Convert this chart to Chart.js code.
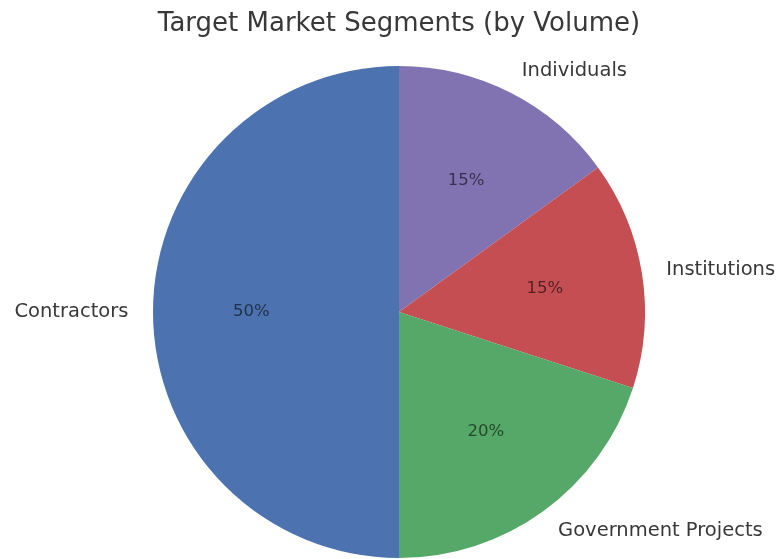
<!DOCTYPE html>
<html>
<head>
<meta charset="utf-8">
<script src="https://cdn.jsdelivr.net/npm/chart.js@4.4.1/dist/chart.umd.min.js"></script>
<style>
html,body{margin:0;padding:0;background:#fff;}
#wrap{width:776px;height:559px;}
</style>
</head>
<body>
<div id="wrap"><canvas id="c" width="776" height="559"></canvas></div>
<script>
const categories = ["Individuals", "Institutions", "Government Projects", "Contractors"];
const shares = [15, 15, 20, 50];
const sliceColors = ["#8172b2", "#c44e52", "#55a868", "#4c72b0"];
const titleText = "Target Market Segments (by Volume)";

const labelPlugin = {
  id: 'pieLabels',
  afterDatasetsDraw(chart) {
    const ctx = chart.ctx;
    const meta = chart.getDatasetMeta(0);
    const total = shares.reduce((a, b) => a + b, 0);
    ctx.save();
    meta.data.forEach((arc, i) => {
      const p = arc.getProps(['x', 'y', 'startAngle', 'endAngle', 'outerRadius'], true);
      const mid = (p.startAngle + p.endAngle) / 2;
      const c = Math.cos(mid), s = Math.sin(mid);
      const lx = p.x + c * p.outerRadius * 1.1;
      const ly = p.y + s * p.outerRadius * 1.1;
      ctx.font = '19.5px "DejaVu Sans"';
      ctx.fillStyle = '#383838';
      ctx.textBaseline = 'middle';
      ctx.textAlign = c > 0.0001 ? 'left' : (c < -0.0001 ? 'right' : 'center');
      ctx.fillText(categories[i], lx, ly);
      const px = p.x + c * p.outerRadius * 0.6;
      const py = p.y + s * p.outerRadius * 0.6;
      ctx.font = '16.5px "DejaVu Sans"';
      ctx.fillStyle = 'rgba(0,0,0,0.58)';
      ctx.textAlign = 'center';
      ctx.fillText(Math.round(shares[i] / total * 100) + '%', px, py);
    });
    ctx.restore();
  }
};

new Chart(document.getElementById('c'), {
  type: 'pie',
  data: {
    labels: categories,
    datasets: [{
      data: shares,
      backgroundColor: sliceColors,
      borderWidth: 0
    }]
  },
  options: {
    responsive: false,
    animation: false,
    rotation: 0,
    layout: { padding: { left: 153, right: 131, top: 0, bottom: 1 } },
    plugins: {
      legend: { display: false },
      tooltip: { enabled: false },
      title: {
        display: true,
        text: titleText,
        color: '#383838',
        font: { family: 'DejaVu Sans', size: 26, weight: 'normal' },
        padding: { top: 9, bottom: 25.8 }
      }
    }
  },
  plugins: [labelPlugin]
});
</script>
</body>
</html>
